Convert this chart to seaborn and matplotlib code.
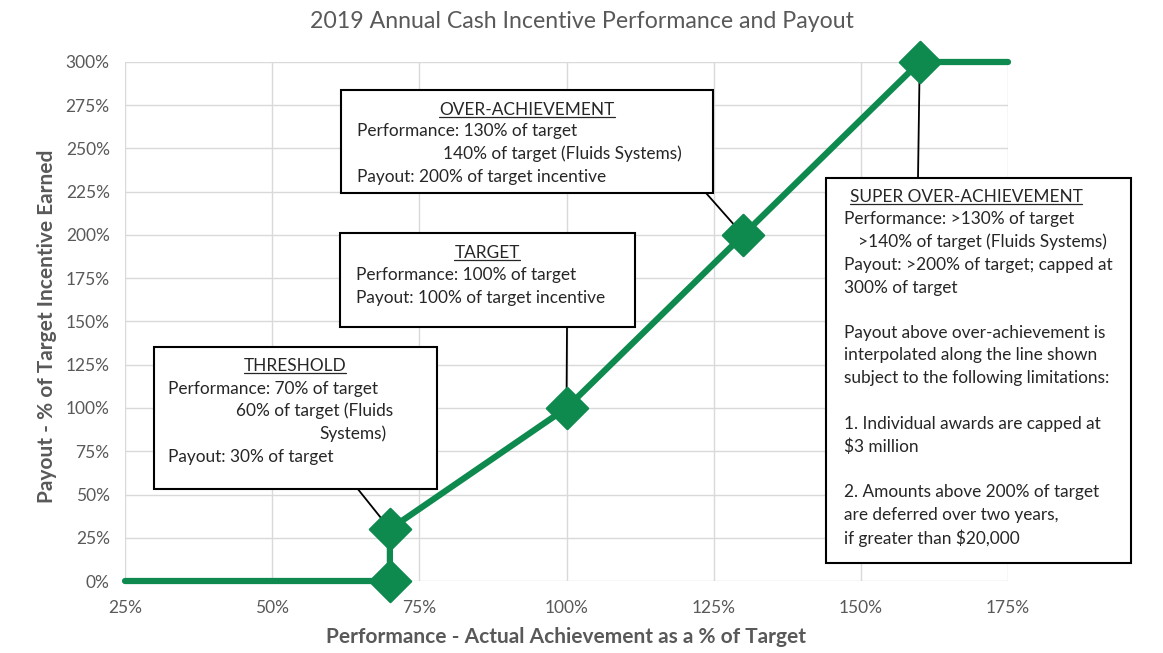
import matplotlib
matplotlib.use("Agg")
import matplotlib.pyplot as plt
import seaborn as sns
import pandas as pd
from matplotlib.patches import Rectangle
from matplotlib.lines import Line2D

# curve data (performance %, payout %)
perf = [25, 70, 70, 100, 130, 160, 175]
payout = [0, 0, 30, 100, 200, 300, 300]
# diamond markers
mark_perf = [70, 70, 100, 130, 160]
mark_pay = [0, 30, 100, 200, 300]

xticks = [25, 50, 75, 100, 125, 150, 175]
yticks = [0, 25, 50, 75, 100, 125, 150, 175, 200, 225, 250, 275, 300]

GREEN = "#0e8a4f"
GREY = "#595959"
W, H = 1163, 653

sns.set_style("whitegrid")
plt.rcParams["font.family"] = ["Lato", "DejaVu Sans"]

fig = plt.figure(figsize=(W / 100, H / 100), dpi=100)
ax = fig.add_axes([125 / W, 1 - 581 / H, (1008 - 125) / W, (581 - 62) / H])

df = pd.DataFrame({"perf": perf, "payout": payout})
sns.lineplot(data=df, x="perf", y="payout", sort=False, estimator=None,
             color=GREEN, lw=4.5, ax=ax, zorder=3, clip_on=False)
dm = pd.DataFrame({"perf": mark_perf, "payout": mark_pay})
sns.scatterplot(data=dm, x="perf", y="payout", marker="D", s=440, color=GREEN,
                edgecolor=GREEN, ax=ax, zorder=4, clip_on=False)

ax.set_xlim(25, 175)
ax.set_ylim(0, 300)
ax.set_xticks(xticks)
ax.set_yticks(yticks)
ax.set_xticklabels([f"{t}%" for t in xticks])
ax.set_yticklabels([f"{t}%" for t in yticks])
ax.tick_params(colors=GREY, labelsize=12.5, length=0)
ax.tick_params(axis="x", pad=14)
ax.tick_params(axis="y", pad=11)
ax.grid(color="#d9d9d9", lw=1)
for s in ax.spines.values():
    s.set_visible(False)

ax.set_xlabel("Performance - Actual Achievement as a % of Target", fontsize=15,
              fontweight="bold", color=GREY)
ax.set_ylabel("Payout - % of Target Incentive Earned", fontsize=15,
              fontweight="bold", color=GREY)
ax.xaxis.set_label_coords(0.5, (581 - 627) / 519)
ax.yaxis.set_label_coords((57 - 125) / 883, 0.49)
fig.text(582 / W, 1 - 22 / H, "2019 Annual Cash Incentive Performance and Payout",
         ha="center", va="center", fontsize=16.7, color=GREY)


def fx(px):
    return px / W


def fy(py):
    return 1 - py / H


# connector lines from boxes to markers
connectors = [((357, 488), (70, 30)), ((567, 327), (100, 100)),
              ((706, 193), (130, 200)), ((918, 178), (160, 300))]
for (bx, by), xy in connectors:
    ax.annotate("", xy=xy, xycoords="data", xytext=(fx(bx), fy(by)),
                textcoords="figure fraction",
                arrowprops=dict(arrowstyle="-", color="black", lw=1.3,
                                shrinkA=0, shrinkB=0), zorder=2)

boxes = [
    # (x0, y0, x1, y1, header, header_cx, header_y, lines [(x, y, text, ha)])
    (154, 347, 437, 489, "THRESHOLD", 295, 366, [
        (168, 389, "Performance: 70% of target", "left"),
        (236, 411, "60% of target (Fluids", "left"),
        (387, 434, "Systems)", "right"),
        (168, 457, "Payout: 30% of target", "left")]),
    (340, 233, 635, 327, "TARGET", 487, 253, [
        (356, 275, "Performance: 100% of target", "left"),
        (356, 298, "Payout: 100% of target incentive", "left")]),
    (341, 90, 713, 193, "OVER-ACHIEVEMENT", 527, 110, [
        (357, 131, "Performance: 130% of target", "left"),
        (443, 154, "140% of target (Fluids Systems)", "left"),
        (357, 177, "Payout: 200% of target incentive", "left")]),
    (826, 178, 1131, 563, "SUPER OVER-ACHIEVEMENT", 966, 197, [
        (844, 219, "Performance: >130% of target", "left"),
        (858, 242, ">140% of target (Fluids Systems)", "left"),
        (844, 265, "Payout: >200% of target; capped at", "left"),
        (844, 288, "300% of target", "left"),
        (844, 333, "Payout above over-achievement is", "left"),
        (844, 355, "interpolated along the line shown", "left"),
        (844, 378, "subject to the following limitations:", "left"),
        (844, 424, "1. Individual awards are capped at", "left"),
        (844, 447, r"\$3 million", "left"),
        (844, 492, "2. Amounts above 200% of target", "left"),
        (844, 515, "are deferred over two years,", "left"),
        (844, 538, r"if greater than \$20,000", "left")]),
]

headers = []
for x0, y0, x1, y1, head, hcx, hy, lines in boxes:
    fig.patches.append(Rectangle((fx(x0), fy(y1)), fx(x1 - x0), (y1 - y0) / H,
                                 transform=fig.transFigure, facecolor="white",
                                 edgecolor="black", lw=1.5, zorder=5))
    t = fig.text(fx(hcx), fy(hy), head, ha="center", va="center", fontsize=12.4,
                 color="#262626", zorder=6)
    headers.append(t)
    for lx, ly, txt, ha in lines:
        fig.text(fx(lx), fy(ly), txt, ha=ha, va="center", fontsize=12.4,
                 color="#262626", zorder=6)

# underline headers
fig.canvas.draw()
r = fig.canvas.get_renderer()
for t in headers:
    bb = t.get_window_extent(renderer=r).transformed(fig.transFigure.inverted())
    fig.lines.append(Line2D([bb.x0, bb.x1], [bb.y0 + 0.002, bb.y0 + 0.002],
                            transform=fig.transFigure, color="#262626", lw=0.9,
                            zorder=6))

fig.savefig("out.png", dpi=100)
